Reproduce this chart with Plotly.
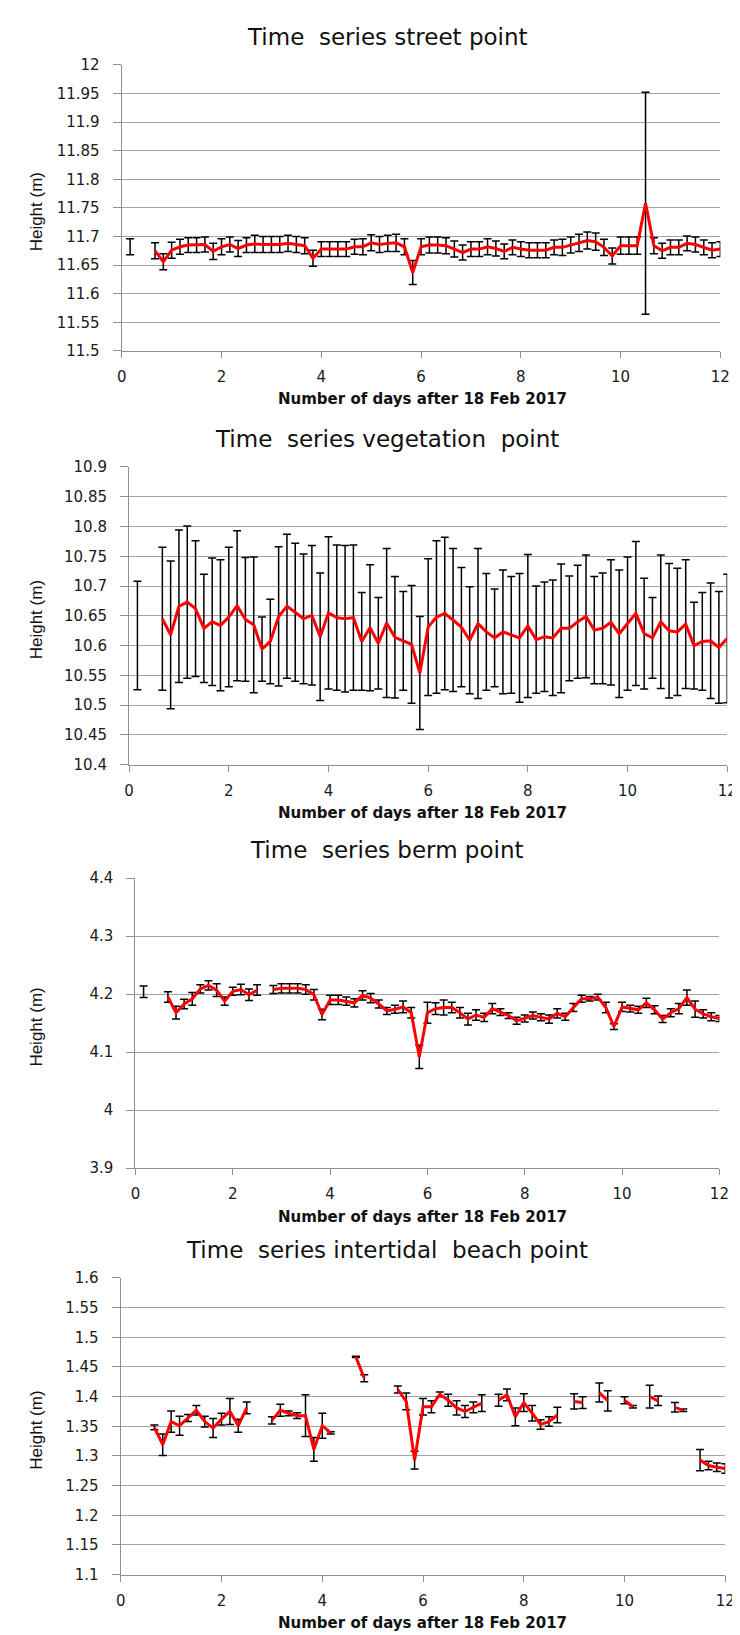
"""Four stacked height time series (street, vegetation, berm, intertidal beach)."""

import plotly.graph_objects as go

W, H = 740, 1635

# time axis: every 4 hours, in days after 18 Feb 2017
days = [
    0.167, 0.333, 0.5, 0.667, 0.833, 1.0,
    1.167, 1.333, 1.5, 1.667, 1.833, 2.0,
    2.167, 2.333, 2.5, 2.667, 2.833, 3.0,
    3.167, 3.333, 3.5, 3.667, 3.833, 4.0,
    4.167, 4.333, 4.5, 4.667, 4.833, 5.0,
    5.167, 5.333, 5.5, 5.667, 5.833, 6.0,
    6.167, 6.333, 6.5, 6.667, 6.833, 7.0,
    7.167, 7.333, 7.5, 7.667, 7.833, 8.0,
    8.167, 8.333, 8.5, 8.667, 8.833, 9.0,
    9.167, 9.333, 9.5, 9.667, 9.833, 10.0,
    10.167, 10.333, 10.5, 10.667, 10.833, 11.0,
    11.167, 11.333, 11.5, 11.667, 11.833, 12.0,
]

street_h = [
    11.682, None, None, 11.675, 11.656, 11.676,
    11.682, 11.685, 11.685, 11.686, 11.674, 11.682,
    11.686, 11.679, 11.685, 11.687, 11.686, 11.686,
    11.686, 11.688, 11.686, 11.684, 11.662, 11.678,
    11.678, 11.678, 11.678, 11.682, 11.682, 11.689,
    11.686, 11.688, 11.689, 11.682, 11.637, 11.682,
    11.685, 11.685, 11.684, 11.678, 11.672, 11.678,
    11.678, 11.682, 11.679, 11.674, 11.681, 11.678,
    11.676, 11.676, 11.676, 11.681, 11.681, 11.685,
    11.689, 11.693, 11.691, 11.681, 11.666, 11.684,
    11.684, 11.684, 11.758, 11.684, 11.675, 11.681,
    11.681, 11.688, 11.686, 11.681, 11.676, 11.678,
]
street_err = [
    0.014, None, None, 0.014, 0.014, 0.014,
    0.013, 0.013, 0.013, 0.013, 0.014, 0.014,
    0.013, 0.014, 0.013, 0.015, 0.014, 0.014,
    0.014, 0.014, 0.014, 0.014, 0.014, 0.013,
    0.013, 0.013, 0.013, 0.013, 0.014, 0.014,
    0.014, 0.014, 0.015, 0.014, 0.021, 0.014,
    0.014, 0.014, 0.014, 0.014, 0.013, 0.013,
    0.013, 0.014, 0.013, 0.013, 0.013, 0.013,
    0.013, 0.013, 0.013, 0.013, 0.014, 0.014,
    0.015, 0.015, 0.015, 0.014, 0.014, 0.015,
    0.015, 0.015, 0.194, 0.014, 0.013, 0.013,
    0.013, 0.013, 0.013, 0.013, 0.013, 0.013,
]

veg_h = [
    10.617, None, None, 10.645, 10.618, 10.666,
    10.673, 10.662, 10.629, 10.640, 10.634, 10.648,
    10.667, 10.644, 10.635, 10.594, 10.607, 10.649,
    10.666, 10.656, 10.645, 10.651, 10.615, 10.655,
    10.647, 10.645, 10.647, 10.607, 10.630, 10.604,
    10.638, 10.614, 10.608, 10.602, 10.554, 10.631,
    10.648, 10.654, 10.643, 10.631, 10.609, 10.637,
    10.623, 10.613, 10.623, 10.618, 10.613, 10.633,
    10.610, 10.615, 10.613, 10.629, 10.629, 10.640,
    10.649, 10.626, 10.629, 10.639, 10.620, 10.637,
    10.654, 10.620, 10.613, 10.640, 10.625, 10.623,
    10.636, 10.600, 10.607, 10.608, 10.597, 10.612,
]
veg_err = [
    0.091, None, None, 0.120, 0.124, 0.128,
    0.128, 0.114, 0.091, 0.107, 0.110, 0.117,
    0.126, 0.104, 0.114, 0.054, 0.071, 0.117,
    0.121, 0.116, 0.109, 0.117, 0.107, 0.128,
    0.122, 0.123, 0.122, 0.082, 0.106, 0.077,
    0.125, 0.102, 0.083, 0.099, 0.095, 0.115,
    0.128, 0.128, 0.120, 0.100, 0.090, 0.126,
    0.098, 0.082, 0.104, 0.098, 0.108, 0.120,
    0.090, 0.092, 0.097, 0.108, 0.088, 0.095,
    0.103, 0.090, 0.093, 0.105, 0.107, 0.112,
    0.121, 0.093, 0.068, 0.112, 0.113, 0.107,
    0.108, 0.073, 0.082, 0.097, 0.094, 0.108,
]

berm_h = [
    4.204, None, None, 4.195, 4.168, 4.183,
    4.192, 4.209, 4.215, 4.207, 4.188, 4.205,
    4.208, 4.199, 4.207, None, 4.208, 4.210,
    4.210, 4.210, 4.208, 4.199, 4.165, 4.190,
    4.190, 4.188, 4.185, 4.198, 4.193, 4.183,
    4.171, 4.174, 4.178, 4.168, 4.092, 4.168,
    4.175, 4.177, 4.177, 4.168, 4.157, 4.164,
    4.160, 4.175, 4.169, 4.163, 4.154, 4.158,
    4.163, 4.160, 4.157, 4.167, 4.161, 4.177,
    4.192, 4.192, 4.195, 4.177, 4.144, 4.178,
    4.175, 4.173, 4.185, 4.173, 4.157, 4.168,
    4.175, 4.194, 4.174, 4.166, 4.161, 4.158,
]
berm_err = [
    0.010, None, None, 0.009, 0.011, 0.008,
    0.011, 0.007, 0.008, 0.011, 0.007, 0.007,
    0.009, 0.010, 0.009, None, 0.007, 0.008,
    0.008, 0.008, 0.008, 0.009, 0.009, 0.008,
    0.008, 0.007, 0.007, 0.008, 0.008, 0.007,
    0.006, 0.007, 0.010, 0.009, 0.020, 0.018,
    0.010, 0.013, 0.009, 0.009, 0.010, 0.009,
    0.007, 0.009, 0.006, 0.005, 0.006, 0.006,
    0.006, 0.006, 0.007, 0.008, 0.006, 0.007,
    0.006, 0.004, 0.005, 0.009, 0.005, 0.008,
    0.006, 0.006, 0.008, 0.007, 0.006, 0.007,
    0.009, 0.013, 0.014, 0.007, 0.007, 0.005,
]

beach_h = [
    None, None, None, 1.348, 1.319, 1.358,
    1.351, 1.364, 1.377, 1.358, 1.347, 1.362,
    1.375, 1.351, 1.381, None, None, 1.360,
    1.377, 1.372, 1.368, 1.368, 1.311, 1.351,
    1.339, None, None, 1.467, 1.431, None,
    None, None, 1.412, 1.392, 1.293, 1.383,
    1.383, 1.404, 1.394, 1.381, 1.375, 1.382,
    1.389, None, 1.394, 1.403, 1.366, 1.390,
    1.372, 1.353, 1.358, 1.369, None, 1.392,
    1.390, None, 1.407, 1.393, None, 1.394,
    1.383, None, 1.400, 1.393, None, 1.382,
    1.377, None, 1.293, 1.284, 1.281, 1.279,
]
beach_err = [
    None, None, None, 0.004, 0.018, 0.018,
    0.016, 0.006, 0.008, 0.009, 0.016, 0.010,
    0.022, 0.011, 0.010, None, None, 0.006,
    0.010, 0.004, 0.005, 0.035, 0.020, 0.021,
    0.002, None, None, 0.001, 0.006, None,
    None, None, 0.006, 0.014, 0.015, 0.014,
    0.010, 0.004, 0.010, 0.012, 0.010, 0.009,
    0.014, None, 0.010, 0.010, 0.015, 0.015,
    0.013, 0.008, 0.008, 0.013, None, 0.013,
    0.010, None, 0.016, 0.017, None, 0.006,
    0.002, None, 0.019, 0.008, None, 0.008,
    0.002, None, 0.018, 0.007, 0.007, 0.008,
]

panels = [
    ("Time  series street point", street_h, street_err, [11.5, 12.0], 0.05,
     (111, 722, 48.3, 337.7)),
    ("Time  series vegetation  point", veg_h, veg_err, [10.4, 10.9], 0.05,
     (118.5, 729, 455, 756)),
    ("Time  series berm point", berm_h, berm_err, [3.9, 4.4], 0.1,
     (125, 721, 870.7, 1164)),
    ("Time  series intertidal  beach point", beach_h, beach_err, [1.1, 1.6], 0.05,
     (110, 727, 1275, 1575)),
]

AXIS_GREY = "#8f8f8f"
GRID_GREY = "#a3a3a3"
TICK_FONT = dict(family="DejaVu Sans", size=15, color="#1a1a1a")

fig = go.Figure()
annotations = []

for i, (title, heights, errs, yrange, dtick, box) in enumerate(panels, start=1):
    x0, x1, y0, y1 = box
    sfx = "" if i == 1 else str(i)

    # error bars underneath
    fig.add_trace(
        go.Scatter(
            x=days,
            y=heights,
            mode="lines",
            line=dict(color="rgba(0,0,0,0)", width=0),
            connectgaps=False,
            error_y=dict(
                type="data",
                array=errs,
                visible=True,
                color="black",
                thickness=1.5,
                width=4,
            ),
            xaxis="x" + sfx,
            yaxis="y" + sfx,
            hoverinfo="skip",
        )
    )
    # red height line on top
    fig.add_trace(
        go.Scatter(
            x=days,
            y=heights,
            mode="lines",
            line=dict(color="#ff0000", width=3),
            connectgaps=False,
            xaxis="x" + sfx,
            yaxis="y" + sfx,
        )
    )

    fig.update_layout(
        {
            "xaxis" + sfx: dict(
                domain=[x0 / W, x1 / W],
                anchor="y" + sfx,
                range=[0, 12],
                tickmode="linear",
                tick0=0,
                dtick=2,
                showgrid=False,
                zeroline=False,
                showline=True,
                linecolor=AXIS_GREY,
                linewidth=1.2,
                ticks="outside",
                ticklen=6,
                tickcolor=AXIS_GREY,
                tickwidth=1.2,
                ticklabelstandoff=6,
                tickfont=TICK_FONT,
            ),
            "yaxis" + sfx: dict(
                domain=[1 - y1 / H, 1 - y0 / H],
                anchor="x" + sfx,
                range=yrange,
                tickmode="linear",
                tick0=yrange[0],
                dtick=dtick,
                showgrid=True,
                gridcolor=GRID_GREY,
                gridwidth=1.3,
                zeroline=False,
                showline=True,
                linecolor=AXIS_GREY,
                linewidth=1.2,
                ticks="outside",
                ticklen=8,
                tickcolor=AXIS_GREY,
                tickwidth=1.2,
                ticklabelstandoff=10,
                tickfont=TICK_FONT,
            ),
        }
    )

    # panel title
    annotations.append(dict(
        text=title, x=382 / W, y=1 - (y0 - 28) / H,
        xref="paper", yref="paper", xanchor="center", yanchor="middle",
        showarrow=False,
        font=dict(family="DejaVu Sans", size=23, color="#111111"),
    ))
    # x axis title
    annotations.append(dict(
        text="<b>Number of days after 18 Feb 2017</b>", x=418 / W, y=1 - (y1 + 49) / H,
        xref="paper", yref="paper", xanchor="center", yanchor="middle",
        showarrow=False,
        font=dict(family="DejaVu Sans", size=15, color="#111111"),
    ))
    # y axis title
    annotations.append(dict(
        text="Height (m)", x=24 / W, y=1 - ((y0 + y1) / 2 + 4) / H,
        xref="paper", yref="paper", xanchor="center", yanchor="middle",
        textangle=-90, showarrow=False,
        font=dict(family="Liberation Sans", size=17, color="#111111"),
    ))

fig.update_layout(
    width=W,
    height=H,
    margin=dict(l=0, r=0, t=0, b=0),
    paper_bgcolor="white",
    plot_bgcolor="white",
    showlegend=False,
    annotations=annotations,
)

fig.write_html("out.html")
